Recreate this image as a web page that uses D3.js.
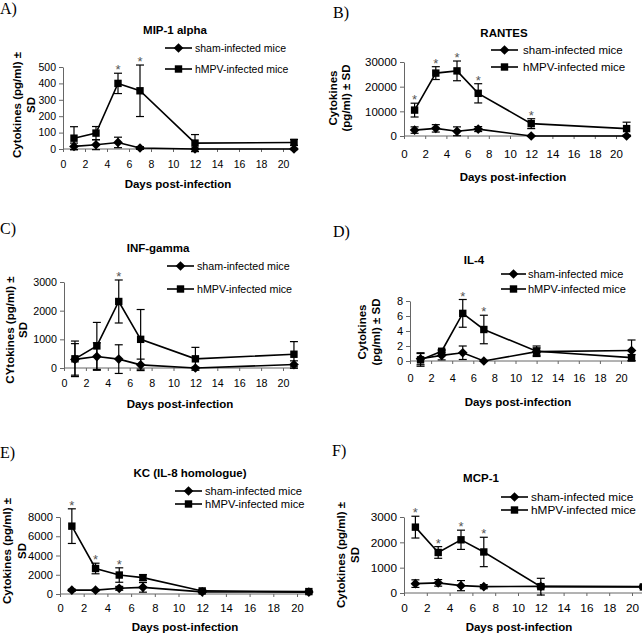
<!DOCTYPE html>
<html>
<head>
<meta charset="utf-8">
<script src="https://cdn.jsdelivr.net/npm/d3@7"></script>
<style>
  body { margin: 0; background: #fff; }
  svg { display: block; font-family: "Liberation Sans", Arial, sans-serif; }
</style>
</head>
<body>
<svg id="chart" width="642" height="636"></svg>
<script>
// sampling days
var days = [1, 3, 5, 7, 12, 21];
var xTicks = [0, 2, 4, 6, 8, 10, 12, 14, 16, 18, 20];
var shamName = "sham-infected mice";
var hmpvName = "hMPV-infected mice";

// A) MIP-1 alpha
var mipSham = [16, 26, 40, 6, 0, 0];
var mipShamSD = [20, 30, 32, 8, 4, 4];
var mipHmpv = [66, 97, 400, 355, 36, 40];
var mipHmpvSD = [70, 40, 62, 157, 52, 18];
var mipStars = [5, 7];
var mipTicks = [0, 100, 200, 300, 400, 500];

// B) RANTES
var rantesSham = [2400, 3100, 1900, 2800, 0, 0];
var rantesShamSD = [1300, 1500, 1800, 1000, 200, 200];
var rantesHmpv = [10500, 25500, 26400, 17300, 5000, 3000];
var rantesHmpvSD = [2800, 2600, 4000, 3900, 2000, 2600];
var rantesStars = [1, 3, 5, 7, 12];
var rantesTicks = [0, 10000, 20000, 30000];

// C) INF-gamma
var infSham = [300, 400, 310, 110, 0, 120];
var infShamSD = [550, 480, 500, 200, 30, 130];
var infHmpv = [320, 770, 2320, 1000, 320, 480];
var infHmpvSD = [620, 820, 750, 1040, 400, 440];
var infStars = [5];
var infTicks = [0, 1000, 2000, 3000];

// D) IL-4
var il4Sham = [0.3, 0.75, 1.1, 0, 1.25, 1.4];
var il4ShamSD = [0.8, 0.6, 0.9, 0.05, 0.5, 1.4];
var il4Hmpv = [0.15, 1.3, 6.35, 4.2, 1.3, 0.45];
var il4HmpvSD = [0.85, 0.2, 1.85, 1.9, 0.7, 0.4];
var il4Stars = [5, 7];
var il4Ticks = [0, 2, 4, 6, 8];

// E) KC (IL-8 homologue)
var kcSham = [400, 400, 590, 690, 220, 200];
var kcShamSD = [100, 80, 200, 500, 60, 50];
var kcHmpv = [7050, 2650, 1970, 1700, 320, 250];
var kcHmpvSD = [1800, 550, 750, 300, 150, 80];
var kcStars = [1, 3, 5];
var kcTicks = [0, 2000, 4000, 6000, 8000];

// F) MCP-1
var mcpSham = [370, 400, 290, 250, 260, 250];
var mcpShamSD = [150, 130, 200, 80, 60, 60];
var mcpHmpv = [2600, 1600, 2100, 1620, 250, 240];
var mcpHmpvSD = [430, 230, 380, 580, 330, 60];
var mcpStars = [1, 3, 5, 7];
var mcpTicks = [0, 1000, 2000, 3000];

var panels = [
  { letter: "A)", lx: 0, ly: 14, title: "MIP-1 alpha", tx: 175, ty: 34,
    yLab: ["Cytokines (pg/ml) \u00b1", "SD"], yLabX: [17, 31], yLabY: 105,
    x0: 63, x20: 283, y0: 149, yTop: 67, yMax: 500, yTicks: mipTicks, fs: 10.5, xPad: 9,
    leg: [165, 192, 195, 48, 69], xlx: 178, xly: 188,
    sham: mipSham, shamSD: mipShamSD, hmpv: mipHmpv, hmpvSD: mipHmpvSD, stars: mipStars },
  { letter: "B)", lx: 333, ly: 18, title: "RANTES", tx: 504, ty: 37,
    yLab: ["Cytokines", "(pg/ml) \u00b1 SD"], yLabX: [333, 346], yLabY: 98,
    x0: 404, x20: 616, y0: 136, yTop: 62, yMax: 30000, yTicks: rantesTicks, fs: 11.5, xPad: 11,
    leg: [491, 518, 523, 50, 67], xlx: 513, xly: 181,
    sham: rantesSham, shamSD: rantesShamSD, hmpv: rantesHmpv, hmpvSD: rantesHmpvSD, stars: rantesStars },
  { letter: "C)", lx: 0, ly: 234, title: "INF-gamma", tx: 158, ty: 252,
    yLab: ["CYtokines (pg/ml) \u00b1", "SD"], yLabX: [10, 23], yLabY: 330,
    x0: 64, x20: 283, y0: 368, yTop: 282, yMax: 3000, yTicks: infTicks, fs: 10.7, xPad: 8,
    leg: [167, 194, 197, 266, 289], xlx: 180, xly: 408,
    sham: infSham, shamSD: infShamSD, hmpv: infHmpv, hmpvSD: infHmpvSD, stars: infStars },
  { letter: "D)", lx: 333, ly: 237, title: "IL-4", tx: 474, ty: 264,
    yLab: ["Cytokines", "(pg/ml) \u00b1 SD"], yLabX: [362, 376], yLabY: 332,
    x0: 410, x20: 621, y0: 361, yTop: 301, yMax: 8, yTicks: il4Ticks, fs: 11, xPad: 10,
    leg: [501, 526, 528, 274, 289], xlx: 518, xly: 406,
    sham: il4Sham, shamSD: il4ShamSD, hmpv: il4Hmpv, hmpvSD: il4HmpvSD, stars: il4Stars },
  { letter: "E)", lx: 0, ly: 458, title: "KC (IL-8 homologue)", tx: 190, ty: 477,
    yLab: ["Cytokines (pg/ml) \u00b1", "SD"], yLabX: [7, 22], yLabY: 551,
    x0: 60, x20: 297, y0: 594, yTop: 517, yMax: 8000, yTicks: kcTicks, fs: 11.2, xPad: 7,
    leg: [175, 202, 205, 491, 504], xlx: 185, xly: 631,
    sham: kcSham, shamSD: kcShamSD, hmpv: kcHmpv, hmpvSD: kcHmpvSD, stars: kcStars },
  { letter: "F)", lx: 332, ly: 456, title: "MCP-1", tx: 481, ty: 482,
    yLab: ["Cytokines (pg/ml) \u00b1", "SD"], yLabX: [341, 355], yLabY: 555,
    x0: 404, x20: 632, y0: 593, yTop: 517, yMax: 3000, yTicks: mcpTicks, fs: 11.8, xPad: 8,
    leg: [501, 528, 531, 497, 510], xlx: 519, xly: 631,
    sham: mcpSham, shamSD: mcpShamSD, hmpv: mcpHmpv, hmpvSD: mcpHmpvSD, stars: mcpStars }
];

var svg = d3.select("#chart");
var xEnd = 21.3;

function drawMarker(g, type, cx, cy) {
  if (type === "square") {
    g.append("rect").attr("x", cx - 3.7).attr("y", cy - 3.7)
      .attr("width", 7.4).attr("height", 7.4).attr("fill", "#000");
  } else {
    g.append("path").attr("d", d3.symbol(d3.symbolDiamond2, 60)())
      .attr("transform", `translate(${cx},${cy})`).attr("fill", "#000");
  }
}

panels.forEach(function(p) {
  var g = svg.append("g");

  var x = d3.scaleLinear().domain([0, 20]).range([p.x0, p.x20]);
  var y = d3.scaleLinear().domain([0, p.yMax]).range([p.y0, p.yTop]);

  // panel letter
  g.append("text").attr("x", p.lx).attr("y", p.ly)
    .style("font-family", "'Liberation Serif', 'Times New Roman', serif")
    .style("font-size", "16px").text(p.letter);

  // title
  g.append("text").attr("x", p.tx).attr("y", p.ty)
    .attr("text-anchor", "middle").style("font-weight", "bold")
    .style("font-size", "11.5px").text(p.title);

  // axes
  var xAxis = d3.axisBottom(x).tickValues(xTicks).tickSize(3)
    .tickPadding(p.xPad).tickSizeOuter(0);
  var yAxis = d3.axisLeft(y).tickValues(p.yTicks).tickSize(4)
    .tickPadding(3).tickSizeOuter(0).tickFormat(d3.format("d"));

  var gx = g.append("g").attr("transform", `translate(0,${p.y0})`).call(xAxis);
  gx.select(".domain").attr("d", `M${p.x0},0H${x(xEnd)}`);
  var gy = g.append("g").attr("transform", `translate(${p.x0},0)`).call(yAxis);
  [gx, gy].forEach(function(a) {
    a.selectAll("text").style("font-size", p.fs + "px")
      .style("font-family", "'Liberation Sans', Arial, sans-serif").attr("fill", "#000");
    a.selectAll("line, path").attr("stroke", "#666").attr("stroke-width", 1);
  });

  // axis titles
  g.append("text").attr("x", p.xlx).attr("y", p.xly)
    .attr("text-anchor", "middle").style("font-weight", "bold")
    .style("font-size", "11.5px").text("Days post-infection");

  p.yLab.forEach(function(t, i) {
    g.append("text")
      .attr("transform", "rotate(-90)")
      .attr("x", -p.yLabY).attr("y", p.yLabX[i]).attr("dy", "0.35em")
      .attr("text-anchor", "middle").style("font-weight", "bold")
      .style("font-size", "11.5px").text(t);
  });

  // series
  var series = [
    { mean: p.sham, sd: p.shamSD, marker: "diamond" },
    { mean: p.hmpv, sd: p.hmpvSD, marker: "square" }
  ];
  var line = d3.line().x(function(d) { return x(d[0]); }).y(function(d) { return y(d[1]); });

  series.forEach(function(s) {
    var pts = days.map(function(d, i) { return [d, s.mean[i], s.sd[i]]; });
    g.append("path").datum(pts).attr("d", line)
      .attr("fill", "none").attr("stroke", "#000").attr("stroke-width", 1.6);

    pts.forEach(function(d) {
      var cx = x(d[0]);
      var hi = y(d[1] + d[2]), lo = y(d[1] - d[2]);
      g.append("line").attr("x1", cx).attr("x2", cx).attr("y1", hi).attr("y2", lo)
        .attr("stroke", "#000").attr("stroke-width", 1.2);
      [hi, lo].forEach(function(yy) {
        g.append("line").attr("x1", cx - 4).attr("x2", cx + 4).attr("y1", yy).attr("y2", yy)
          .attr("stroke", "#000").attr("stroke-width", 1.2);
      });
      drawMarker(g, s.marker, cx, y(d[1]));
    });
  });

  // significance asterisks above hMPV error bars
  p.stars.forEach(function(day) {
    var i = days.indexOf(day);
    g.append("text").attr("x", x(day)).attr("y", y(p.hmpv[i] + p.hmpvSD[i]) + 1)
      .attr("text-anchor", "middle").attr("fill", "#555")
      .style("font-size", "13px").text("*");
  });

  // legend
  var names = [shamName, hmpvName];
  [p.leg[3], p.leg[4]].forEach(function(ly, i) {
    g.append("line").attr("x1", p.leg[0]).attr("x2", p.leg[1]).attr("y1", ly).attr("y2", ly)
      .attr("stroke", "#000").attr("stroke-width", 1.6);
    drawMarker(g, i === 0 ? "diamond" : "square", (p.leg[0] + p.leg[1]) / 2, ly);
    g.append("text").attr("x", p.leg[2]).attr("y", ly).attr("dy", "0.35em")
      .style("font-size", p.fs + "px").text(names[i]);
  });
});
</script>
</body>
</html>
